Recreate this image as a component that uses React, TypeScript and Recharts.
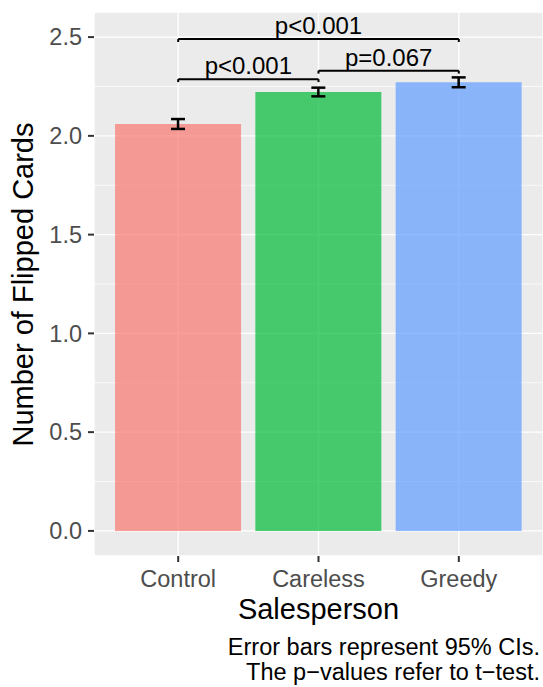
import React from "react";
import { BarChart, Bar, Cell, XAxis, YAxis, CartesianGrid, ErrorBar, ReferenceLine } from "recharts";

const categories = ["Control", "Careless", "Greedy"];
const positions = [1, 2, 3];
const means = [2.06, 2.222, 2.271];
const ciHalf = [0.025, 0.022, 0.025];
const colors = ["#F8766D", "#00BA38", "#619CFF"];

const yTicks = [0, 0.5, 1, 1.5, 2, 2.5];
const yMinor = [0.25, 0.75, 1.25, 1.75, 2.25];

const brackets = [
  { from: 1, to: 2, y: 2.287, label: "p<0.001" },
  { from: 2, to: 3, y: 2.33, label: "p=0.067" },
  { from: 1, to: 3, y: 2.49, label: "p<0.001" },
];
const tip = 0.015;

const FONT = '"Liberation Sans", Arial, Helvetica, sans-serif';

const data = categories.map((c, i) => ({ name: c, x: positions[i], mean: means[i], ci: ciHalf[i] }));

export default function App() {
  return (
    <div style={{ position: "absolute", left: 0, top: 0, width: 543, height: 687, background: "#fff", fontFamily: FONT }}>
      <BarChart width={543} height={687} data={data} margin={{ top: 12, right: 0, bottom: 0, left: 0 }}>
        <CartesianGrid fill="#EBEBEB" stroke="#FFFFFF" strokeWidth={0.7} vertical={false} horizontalValues={yMinor} />
        <CartesianGrid stroke="#FFFFFF" strokeWidth={1.4} fill="none" />
        <XAxis
          dataKey="x"
          type="number"
          domain={[0.4, 3.6]}
          ticks={positions}
          tickFormatter={(v: number) => categories[positions.indexOf(v)] ?? ""}
          axisLine={false}
          tickLine={{ stroke: "#333333", strokeWidth: 2 }}
          tickSize={6}
          tickMargin={8}
          height={131}
          tick={{ fill: "#4D4D4D", fontSize: 23.5, fontFamily: FONT }}
          allowDataOverflow
          label={{
            content: () => (
              <text x={318.5} y={619} textAnchor="middle" fontSize={29} fontFamily={FONT} fill="#000">
                Salesperson
              </text>
            ),
          }}
        />
        <YAxis
          type="number"
          domain={[-0.127, 2.627]}
          ticks={yTicks}
          tickFormatter={(v: number) => v.toFixed(1)}
          axisLine={false}
          tickLine={{ stroke: "#333333", strokeWidth: 2 }}
          tickSize={6}
          tickMargin={6}
          width={94}
          tick={{ fill: "#4D4D4D", fontSize: 23.5, fontFamily: FONT }}
          allowDataOverflow
          label={{
            content: () => (
              <text x={33} y={284.5} textAnchor="middle" fontSize={29} fontFamily={FONT} fill="#000" transform="rotate(-90 33 284.5)">
                Number of Flipped Cards
              </text>
            ),
          }}
        />
        <Bar dataKey="mean" barSize={126} isAnimationActive={false}>
          {data.map((d, i) => (
            <Cell key={d.name} fill={colors[i]} fillOpacity={0.7} />
          ))}
          <ErrorBar dataKey="ci" width={7} stroke="#000" strokeWidth={2.5} direction="y" isAnimationActive={false} />
        </Bar>
        {brackets.map((b, i) => (
          <ReferenceLine
            key={"h" + i}
            segment={[{ x: b.from, y: b.y }, { x: b.to, y: b.y }]}
            stroke="#000"
            strokeWidth={2}
            ifOverflow="visible"
            label={{ value: b.label, position: "top", offset: 5, fill: "#000", fontSize: 24, fontFamily: FONT }}
          />
        ))}
        {brackets.flatMap((b, i) => [
          <ReferenceLine
            key={"l" + i}
            segment={[{ x: b.from, y: b.y }, { x: b.from, y: b.y - tip }]}
            stroke="#000"
            strokeWidth={2}
            ifOverflow="visible"
          />,
          <ReferenceLine
            key={"r" + i}
            segment={[{ x: b.to, y: b.y }, { x: b.to, y: b.y - tip }]}
            stroke="#000"
            strokeWidth={2}
            ifOverflow="visible"
          />,
        ])}
      </BarChart>
      <div style={{ position: "absolute", right: 3, top: 635, textAlign: "right", fontSize: 23.5, lineHeight: "24.5px", color: "#000" }}>
        Error bars represent 95% CIs.
        <br />
        The p−values refer to t−test.
      </div>
    </div>
  );
}
